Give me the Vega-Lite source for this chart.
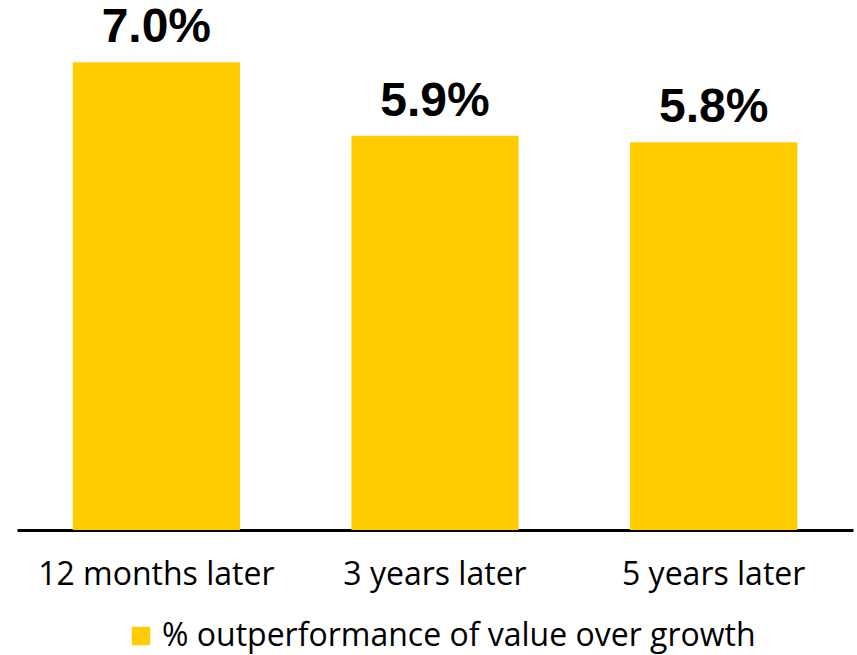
{
  "$schema": "https://vega.github.io/schema/vega-lite/v6.json",
  "width": 836,
  "height": 530,
  "autosize": "none",
  "padding": {"left": 17, "top": 0, "right": 4, "bottom": 125},
  "background": "white",
  "config": {
    "view": {"stroke": null},
    "font": "Open Sans"
  },
  "data": {
    "values": [
      {"period": "12 months later", "value": 7.0, "label": "7.0%", "series": "% outperformance of value over growth"},
      {"period": "3 years later", "value": 5.9, "label": "5.9%", "series": "% outperformance of value over growth"},
      {"period": "5 years later", "value": 5.8, "label": "5.8%", "series": "% outperformance of value over growth"}
    ]
  },
  "encoding": {
    "x": {
      "field": "period",
      "type": "nominal",
      "sort": null,
      "scale": {"paddingInner": 0.4, "paddingOuter": 0.2},
      "axis": {
        "title": null,
        "labelAngle": 0,
        "labelFont": "Open Sans",
        "labelFontSize": 32,
        "labelColor": "#000000",
        "labelPadding": 29,
        "labelLimit": 0,
        "ticks": false,
        "domainColor": "#000000",
        "domainWidth": 3,
        "grid": false
      }
    },
    "y": {
      "field": "value",
      "type": "quantitative",
      "scale": {"domain": [0, 7.93], "nice": false},
      "axis": null
    }
  },
  "layer": [
    {
      "mark": {"type": "bar", "color": "#FFCC00"},
      "encoding": {
        "color": {
          "field": "series",
          "type": "nominal",
          "scale": {"range": ["#FFCC00"]},
          "legend": {
            "title": null,
            "orient": "none",
            "legendX": 108,
            "legendY": 620,
            "symbolType": "square",
            "symbolSize": 340,
            "symbolStrokeWidth": 0,
            "labelFont": "Open Sans",
            "labelFontSize": 32,
            "labelColor": "#000000",
            "labelLimit": 0,
            "labelOffset": 5
          }
        }
      }
    },
    {
      "mark": {
        "type": "text",
        "font": "Liberation Sans",
        "fontWeight": "bold",
        "fontSize": 48,
        "baseline": "alphabetic",
        "dy": -20,
        "color": "#000000"
      },
      "encoding": {"text": {"field": "label"}}
    }
  ]
}
